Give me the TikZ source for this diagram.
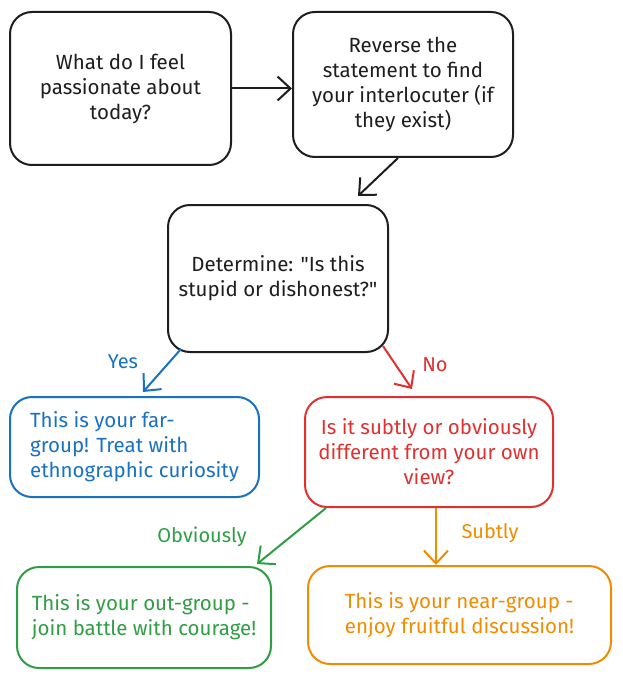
\documentclass[tikz,border=0pt]{standalone}
\usepackage{fontspec}
\setmainfont{Fira Sans}[Ligatures=TeXOff]
\usetikzlibrary{arrows.meta}
\definecolor{ink}{HTML}{1E1E1E}
\definecolor{eblue}{HTML}{1971C2}
\definecolor{ered}{HTML}{E03131}
\definecolor{egreen}{HTML}{2F9E44}
\definecolor{eorange}{HTML}{F08C00}
\tikzset{
  box/.style={draw=#1, text=#1, line width=2pt, rounded corners=22pt, inner sep=0pt,
    font=\fontsize{20.5}{25}\selectfont},
  arr/.style={draw=#1, line width=2pt, -{Straight Barb[length=13pt,width=24pt,line width=2pt]}},
  lbl/.style={text=#1, font=\fontsize{20}{25}\selectfont, inner sep=0pt}
}
\begin{document}
\begin{tikzpicture}[x=1pt,y=-1pt]
\useasboundingbox[fill=white] (0,0) rectangle (622,679);
\node[box=ink, minimum width=221pt, minimum height=153pt, align=center] (b1) at (120.5,88.5)
  {What do I feel\\passionate about\\today?};
\node[box=ink, minimum width=220pt, minimum height=145pt, align=center] (b2) at (403,84.5)
  {Reverse the\\statement to find\\your interlocuter (if\\they exist)};
\node[box=ink, minimum width=220pt, minimum height=147pt, align=center] (b3) at (278,278.5)
  {Determine: "Is this\\stupid or dishonest?"};
\node[box=eblue, minimum width=249pt, minimum height=100pt, align=left] (bl) at (134.5,447)
  {This is your far-\\group! Treat with\\ethnographic curiosity};
\node[box=ered, minimum width=248pt, minimum height=110pt, align=center] (rd) at (429,452)
  {Is it subtly or obviously\\different from your own\\view?};
\node[box=egreen, minimum width=254pt, minimum height=101pt, align=left] (gr) at (144,617.5)
  {This is your out-group -\\join battle with courage!};
\node[box=eorange, minimum width=303pt, minimum height=98pt, align=left] (or) at (459.5,615)
  {This is your near-group -\\enjoy fruitful discussion!};

\draw[arr=ink] (b1.east) -- (b1.east -| b2.west);
\draw[arr=ink] ([xshift=-5pt]b2.south) -- ([xshift=80pt,yshift=8pt]b3.north);
\draw[arr=eblue] ([xshift=14pt,yshift=4pt]b3.south west) -- ([xshift=8.5pt,yshift=4pt]bl.north);
\draw[arr=ered] ([xshift=-6pt,yshift=7pt]b3.south east) -- ([xshift=-17pt,yshift=7pt]rd.north);
\draw[arr=egreen] ([xshift=22pt]rd.south west) -- ([xshift=-15pt,yshift=2pt]gr.north east);
\coordinate (ot) at ([xshift=7pt]rd.south);
\draw[arr=eorange] (ot) -- (ot |- or.north);

\node[lbl=eblue] (lyes) at (123,362) {Yes};
\node[lbl=ered] (lno) at (435,365) {No};
\node[lbl=egreen] (lob) at (202,537) {Obviously};
\node[lbl=eorange] (lsu) at (490,533) {Subtly};
\end{tikzpicture}
\end{document}
